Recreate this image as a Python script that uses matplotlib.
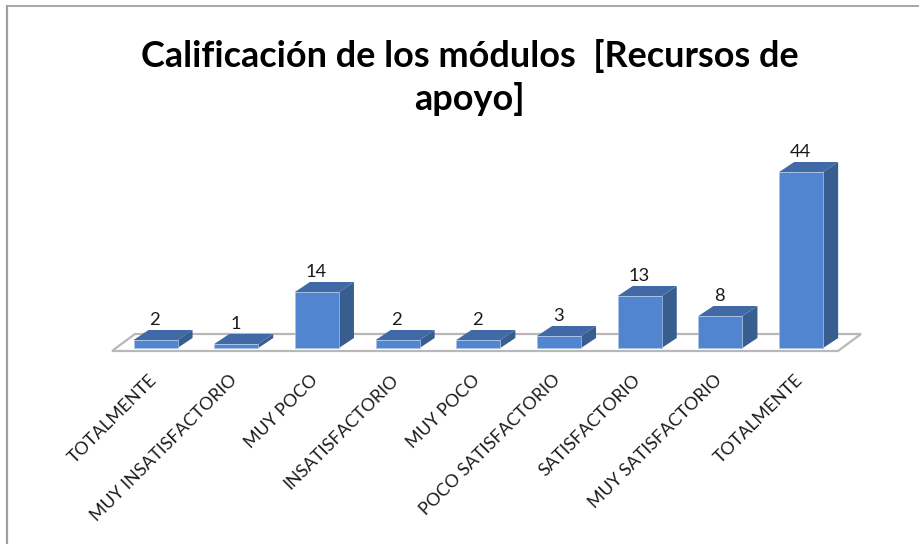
import matplotlib
matplotlib.use("Agg")
import matplotlib.pyplot as plt
from matplotlib.patches import Polygon
from matplotlib.lines import Line2D
from matplotlib.transforms import ScaledTranslation

plt.rcParams['font.family'] = ['Lato', 'DejaVu Sans']

categories = ["TOTALMENTE", "MUY INSATISFACTORIO", "MUY POCO", "INSATISFACTORIO",
              "MUY POCO", "POCO SATISFACTORIO", "SATISFACTORIO",
              "MUY SATISFACTORIO", "TOTALMENTE"]
values = [2, 1, 14, 2, 2, 3, 13, 8, 44]
title = "Calificación de los módulos  [Recursos de\napoyo]"

W, H = 920, 544
fig = plt.figure(figsize=(W / 100, H / 100), dpi=100, facecolor="white")

# plot area in pixels
UX, UY = 80.7, 4.0
left, base = 115.2, 348.0
ax = fig.add_axes([left / W, (H - base) / H, 9 * UX / W, 44 * UY / H])
ax.set_xlim(-0.5, 8.5)
ax.set_ylim(0, 44)
for s in ax.spines.values():
    s.set_visible(False)
ax.patch.set_visible(False)
ax.set_yticks([])

half = 22 / UX
dx, dy = 15 / UX, 10 / UY

# floor
fx0, fx1 = (112 - left) / UX - 0.5, (838 - left) / UX - 0.5
fy0 = -3 / UY
fdx, fdy = 23 / UX, 17 / UY
ax.add_patch(Polygon([(fx0, fy0), (fx1, fy0), (fx1 + fdx, fy0 + fdy), (fx0 + fdx, fy0 + fdy)],
                     closed=True, facecolor="white", edgecolor="#b8b8b8", lw=1.6,
                     clip_on=False, zorder=1))

for i, v in enumerate(values):
    x0, x1 = i - half, i + half
    ax.add_patch(Polygon([(x1, 0), (x1 + dx, dy), (x1 + dx, v + dy), (x1, v)],
                         closed=True, fc="#385d8f", ec="none", clip_on=False, zorder=3))
    ax.add_patch(Polygon([(x0, v), (x1, v), (x1 + dx, v + dy), (x0 + dx, v + dy)],
                         closed=True, fc="#4069a5", ec="none", clip_on=False, zorder=3))
    ax.bar(i, v, width=2 * half, color="#5185cf", edgecolor="#a9c3e6", linewidth=0.5,
           clip_on=False, zorder=4)
    ax.annotate(str(v), (i, v + dy), xytext=(-0.6, 1.2), textcoords="offset points",
                ha="center", va="bottom", fontsize=13.2, color="#1a1a1a",
                annotation_clip=False, zorder=5)

ax.set_xticks(range(len(categories)))
ax.set_xticklabels(categories, rotation=45, ha="right", va="top", rotation_mode="anchor",
                   fontsize=12.8, color="#1c1c1c")
ax.tick_params(axis="x", length=0, pad=17)
shift = ScaledTranslation(-7 / 100, 0, fig.dpi_scale_trans)
for lab in ax.get_xticklabels():
    lab.set_transform(lab.get_transform() + shift)

fig.text(469.5 / W, 1 - 77.5 / H, title, ha="center", va="center", fontsize=25.9,
         fontweight="bold", color="black", linespacing=1.3)

# frame
c = "#a0a0a0"
fig.add_artist(Line2D([7 / W, 1], [1 - 6 / H, 1 - 6 / H], color=c, lw=1.3))
fig.add_artist(Line2D([7.5 / W, 7.5 / W], [0, 1 - 6 / H], color=c, lw=1.6))

fig.savefig("out.png", dpi=100, facecolor="white")
